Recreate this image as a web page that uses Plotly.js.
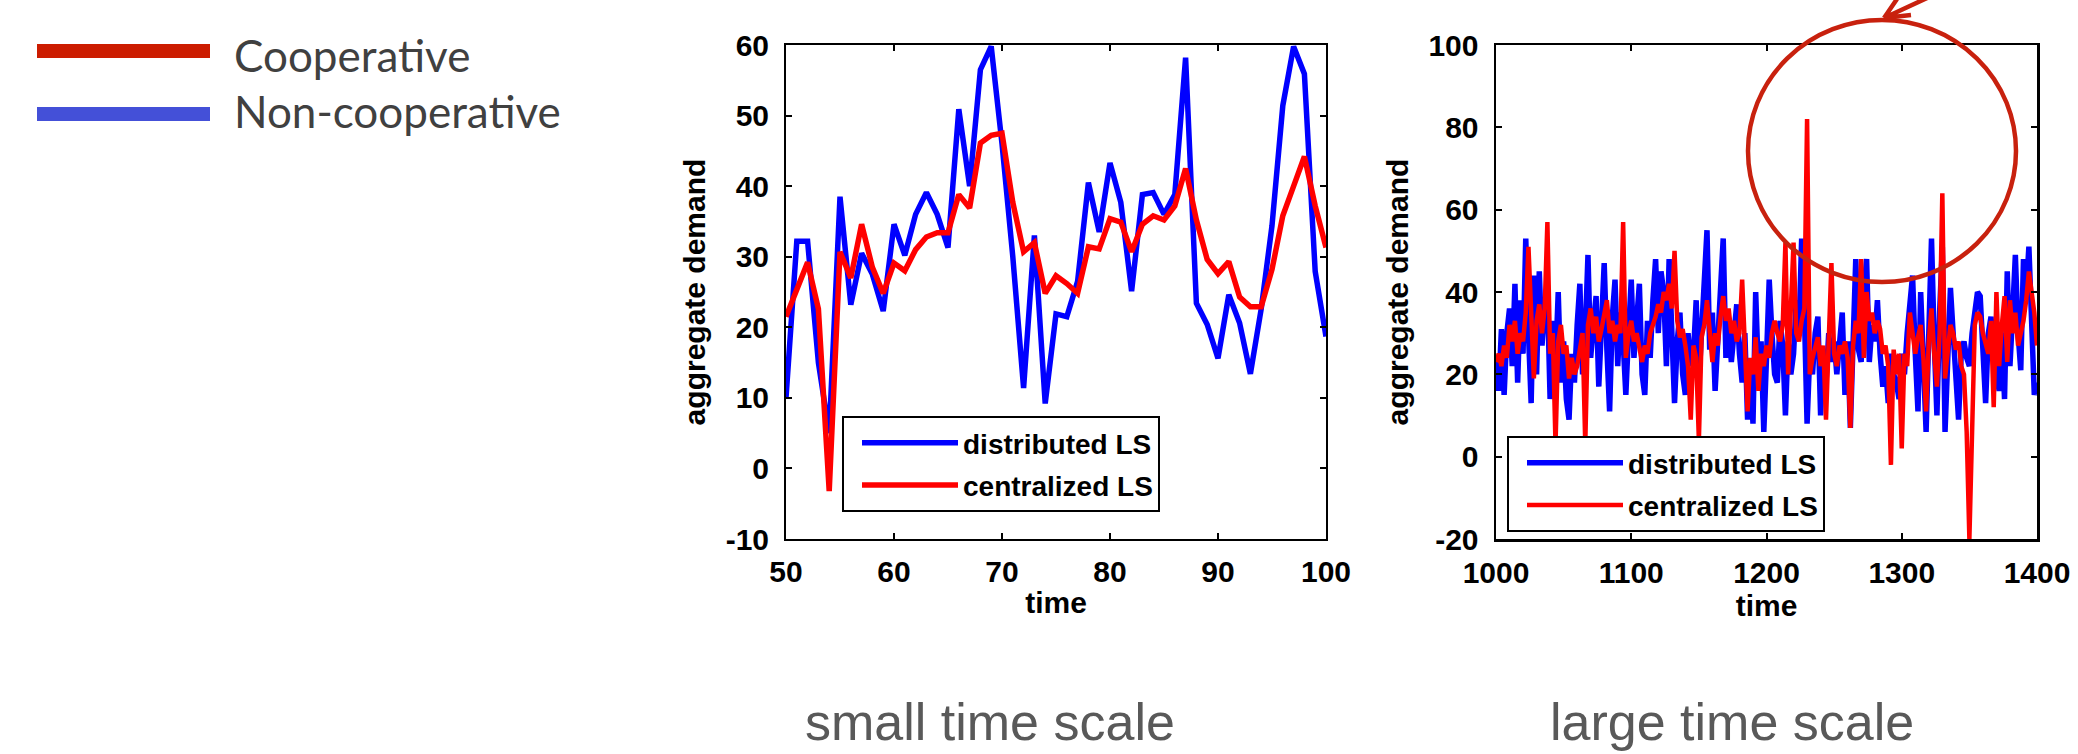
<!DOCTYPE html>
<html>
<head>
<meta charset="utf-8">
<script src="https://cdn.plot.ly/plotly-3.0.1.min.js"></script>
<style>html,body{margin:0;padding:0;background:#fff;overflow:hidden}</style>
</head>
<body>
<div id="chart" style="width:2078px;height:754px"></div>
<script>
// ---------------- data ----------------
const seriesNames = ['distributed LS', 'centralized LS'];
const slideLegendNames = ['Cooperative', 'Non-cooperative'];
const panelCaptions = ['small time scale', 'large time scale'];
const xTitle = 'time', yTitle = 'aggregate demand';

// small time scale panel: time 50..100, step 1
const smallTimeStart = 50;
const smallTimeStep = 1;
const smallDistributed = [
  10, 32.2, 32.2, 15, 5, 38.5, 23.2, 30.5, 27.5, 22.3,
  34.6, 30.2, 36, 39.1, 36, 31.3, 50.9, 40, 56.5, 59.8,
  46, 30, 11.4, 33, 9.2, 21.9, 21.5, 26.5, 40.5, 33.5,
  43.3, 37.7, 25.1, 38.8, 39.1, 36, 38.8, 58.2, 23.4, 20.4,
  15.6, 24.6, 20.6, 13.4, 22.6, 34.4, 51.4, 59.8, 55.9, 27.9,
  18.7
];
const smallCentralized = [
  21.5, 25.4, 29.2, 22.6, -3.2, 30.7, 27, 34.6, 28.5, 24.8,
  29.1, 28, 31, 32.8, 33.4, 33.4, 38.8, 36.9, 46.1, 47.2,
  47.5, 37.7, 30.7, 32, 24.8, 27.3, 26.2, 24.8, 31.4, 31.1,
  35.4, 34.9, 30.7, 34.6, 35.8, 35.2, 37.2, 42.5, 35.2, 29.6,
  27.6, 29.3, 24.3, 22.9, 22.9, 28.2, 35.8, 40, 44.2, 37.2,
  31.3
];

// large time scale panel: time 1000..1400, step 2
const largeTimeStart = 1000;
const largeTimeStep = 2;
const largeDistributed = [
  24, 16, 31, 15, 30, 36, 22, 42, 18, 38,
  25, 53, 30, 13, 44, 20, 45, 27, 36, 40,
  14, 33, 22, 40, 18, 28, 14, 9, 25, 18,
  32, 42, 20, 30, 49, 24, 32, 39, 17, 30,
  47, 26, 11, 34, 43, 22, 35, 28, 15, 30,
  43, 24, 35, 42, 20, 15, 33, 24, 38, 48,
  30, 45, 40, 22, 48, 30, 13, 28, 35, 20,
  15, 30, 22, 25, 38, 18, 30, 39, 55, 26,
  35, 16, 30, 42, 53, 24, 33, 23, 30, 37,
  25, 18, 30, 9, 22, 8, 40, 20, 28, 6,
  24, 43, 30, 20, 18, 33, 27, 10, 28, 20,
  25, 38, 30, 53, 35, 8, 25, 20, 30, 34,
  10, 26, 18, 30, 23, 28, 20, 30, 35, 15,
  28, 7, 30, 48, 26, 23, 40, 48, 23, 32,
  28, 38, 25, 17, 22, 13, 25, 20, 18, 14,
  25, 20, 30, 37, 44, 25, 11, 40, 25, 6,
  30, 53, 28, 10, 35, 51, 6, 25, 41, 30,
  20, 9, 25, 28, 24, 22, 30, 35, 40, 39,
  25, 13, 30, 34, 25, 20, 16, 30, 14, 45,
  22, 35, 49, 30, 21, 48, 40, 51, 30, 15,
  18
];
const largeCentralized = [
  23, 25, 22, 27, 24, 32, 28, 33, 25, 30,
  28, 35, 51, 32, 19, 33, 37, 30, 36, 57,
  25, 30, 3, 28, 32, 25, 27, 19, 24, 20,
  22, 26, 30, 3, 32, 36, 30, 34, 28, 31,
  34, 38, 30, 33, 28, 32, 30, 57, 24, 30,
  33, 28, 30, 26, 23, 27, 25, 30, 32, 34,
  37, 35, 40, 38, 42, 36, 50, 33, 29, 31,
  27, 22, 9, 27, 24, 4, 29, 32, 38, 30,
  23, 30, 27, 34, 39, 33, 36, 30, 33, 28,
  30, 43, 26, 11, 24, 20, 29, 16, 25, 22,
  27, 24, 30, 33, 30, 28, 32, 52, 20, 35,
  52, 30, 28, 33, 36, 82, 20, 24, 27, 29,
  22, 27, 9, 30, 47, 25, 22, 27, 25, 28,
  24, 7, 27, 33, 30, 48, 24, 40, 33, 35,
  30, 33, 31, 25, 27, 22, -2, 26, 20, 25,
  2, 25, 22, 35, 30, 25, 29, 32, 24, 11,
  28, 36, 25, 17, 30, 64, 19, 25, 32, 30,
  26, 28, 22, 20, 6, -20, 10, 32, 35, 34,
  30, 27, 25, 33, 12, 40, 22, 32, 39, 23,
  38, 30, 35, 27, 30, 33, 38, 45, 40, 35,
  27
];

// axis ranges and tick labels
const smallXRange = [50, 100], smallYRange = [-10, 60];
const largeXRange = [1000, 1400], largeYRange = [-20, 100];
const smallXTicks = [50, 60, 70, 80, 90, 100];
const smallXTickText = ['50', '60', '70', '80', '90', '100'];
const smallYTicks = [-10, 0, 10, 20, 30, 40, 50, 60];
const smallYTickText = ['-10', '0', '10', '20', '30', '40', '50', '60'];
const largeXTicks = [1000, 1100, 1200, 1300, 1400];
const largeXTickText = ['1000', '1100', '1200', '1300', '1400'];
const largeYTicks = [-20, 0, 20, 40, 60, 80, 100];
const largeYTickText = ['-20', '0', '20', '40', '60', '80', '100'];

// ---------------- styling ----------------
const W = 2078, H = 754;
const px = v => v / W;
const py = v => 1 - v / H;
const FONT = '"Liberation Sans", Arial, Helvetica, sans-serif';
const tickFont = {family: FONT, size: 30, color: '#000', weight: 'bold'};
const titleFont = {family: FONT, size: 30, color: '#000', weight: 'bold'};
const legendFont = {family: FONT, size: 28, color: '#000', weight: 'bold'};
const BLUE = '#0000FF', RED = '#FF0000';
const ANNOT_RED = '#C8210E';

function xAxisCfg(domain, range, tickvals, ticktext, anchor, lw) {
  return {
    domain: domain, range: range, anchor: anchor,
    tickmode: 'array', tickvals: tickvals, ticktext: ticktext,
    ticks: 'inside', ticklen: 6, tickwidth: 2, tickcolor: '#000',
    showline: true, linecolor: '#000', linewidth: lw, mirror: 'ticks',
    showgrid: false, zeroline: false, tickfont: tickFont, ticklabelstandoff: 5,
    title: {text: xTitle, font: titleFont, standoff: 5}
  };
}
function yAxisCfg(range, tickvals, ticktext, anchor, lw) {
  return {
    domain: [py(539), py(45)], range: range, anchor: anchor,
    tickmode: 'array', tickvals: tickvals, ticktext: ticktext,
    ticks: 'inside', ticklen: 6, tickwidth: 2, tickcolor: '#000',
    showline: true, linecolor: '#000', linewidth: lw, mirror: 'ticks',
    showgrid: false, zeroline: false, tickfont: tickFont, ticklabelstandoff: 9,
    title: {text: yTitle, font: titleFont, standoff: 11}
  };
}

const traces = [
  {type: 'scatter', mode: 'lines', x0: smallTimeStart, dx: smallTimeStep, y: smallDistributed,
   xaxis: 'x', yaxis: 'y', name: seriesNames[0], line: {color: BLUE, width: 5.5},
   legend: 'legend', legendgroup: 's1'},
  {type: 'scatter', mode: 'lines', x0: smallTimeStart, dx: smallTimeStep, y: smallCentralized,
   xaxis: 'x', yaxis: 'y', name: seriesNames[1], line: {color: RED, width: 5.5},
   legend: 'legend', legendgroup: 's2'},
  {type: 'scatter', mode: 'lines', x0: largeTimeStart, dx: largeTimeStep, y: largeDistributed,
   xaxis: 'x2', yaxis: 'y2', name: seriesNames[0], line: {color: BLUE, width: 5.5},
   legend: 'legend2', legendgroup: 'l1'},
  {type: 'scatter', mode: 'lines', x0: largeTimeStart, dx: largeTimeStep, y: largeCentralized,
   xaxis: 'x2', yaxis: 'y2', name: seriesNames[1], line: {color: RED, width: 4.5},
   legend: 'legend2', legendgroup: 'l2'}
];

function innerLegend(left, top) {
  return {
    x: px(left), y: py(top), xanchor: 'left', yanchor: 'top',
    xref: 'paper', yref: 'paper',
    bgcolor: '#fff', bordercolor: '#000', borderwidth: 2,
    font: legendFont, itemwidth: 96, indentation: 13,
    traceorder: 'grouped', tracegroupgap: 3,
    itemclick: false, itemdoubleclick: false
  };
}

// arrow path (paper coords)
function P(x, y) { return px(x).toFixed(5) + ',' + py(y).toFixed(5); }
const arrowPath = 'M' + P(1884, 18) + 'L' + P(1940, -8) +
  'M' + P(1884, 18) + 'L' + P(1897, -1) +
  'M' + P(1884, 18) + 'L' + P(1911, 15);

const slideFont = {family: 'Lato, "Open Sans", sans-serif', size: 44, color: '#404040'};
const captionFont = {family: FONT, size: 52, color: '#595959'};

const layout = {
  width: W, height: H,
  margin: {l: 0, r: 0, t: 0, b: 0, pad: 0},
  paper_bgcolor: '#fff', plot_bgcolor: '#fff',
  showlegend: true,
  xaxis: xAxisCfg([px(786), px(1326)], smallXRange, smallXTicks, smallXTickText, 'y', 2),
  yaxis: yAxisCfg(smallYRange, smallYTicks, smallYTickText, 'x', 2),
  xaxis2: xAxisCfg([px(1496), px(2037)], largeXRange, largeXTicks, largeXTickText, 'y2', 2.5),
  yaxis2: yAxisCfg(largeYRange, largeYTicks, largeYTickText, 'x2', 2.5),
  legend: innerLegend(842, 416),
  legend2: innerLegend(1507, 436),
  shapes: [
    // slide legend bars
    {type: 'line', xref: 'paper', yref: 'paper', x0: px(37), x1: px(210), y0: py(51), y1: py(51),
     line: {color: '#CC1C00', width: 14}},
    {type: 'line', xref: 'paper', yref: 'paper', x0: px(37), x1: px(210), y0: py(114), y1: py(114),
     line: {color: '#4450D8', width: 14}},
    // highlight circle
    {type: 'circle', xref: 'paper', yref: 'paper', x0: px(1748), x1: px(2016), y0: py(282), y1: py(20),
     line: {color: ANNOT_RED, width: 4.5}, fillcolor: 'rgba(0,0,0,0)', layer: 'above'},
    {type: 'path', xref: 'paper', yref: 'paper', path: arrowPath,
     line: {color: ANNOT_RED, width: 4.5}}
  ],
  annotations: [
    {text: slideLegendNames[0], xref: 'paper', yref: 'paper', x: px(232), y: py(55),
     xanchor: 'left', yanchor: 'middle', showarrow: false, font: slideFont},
    {text: slideLegendNames[1], xref: 'paper', yref: 'paper', x: px(232), y: py(111),
     xanchor: 'left', yanchor: 'middle', showarrow: false, font: slideFont},
    {text: panelCaptions[0], xref: 'paper', yref: 'paper', x: px(990), y: py(722),
     xanchor: 'center', yanchor: 'middle', showarrow: false, font: captionFont},
    {text: panelCaptions[1], xref: 'paper', yref: 'paper', x: px(1732), y: py(722),
     xanchor: 'center', yanchor: 'middle', showarrow: false, font: captionFont}
  ]
};

Plotly.newPlot('chart', traces, layout, {staticPlot: true, displayModeBar: false});
</script>
</body>
</html>
